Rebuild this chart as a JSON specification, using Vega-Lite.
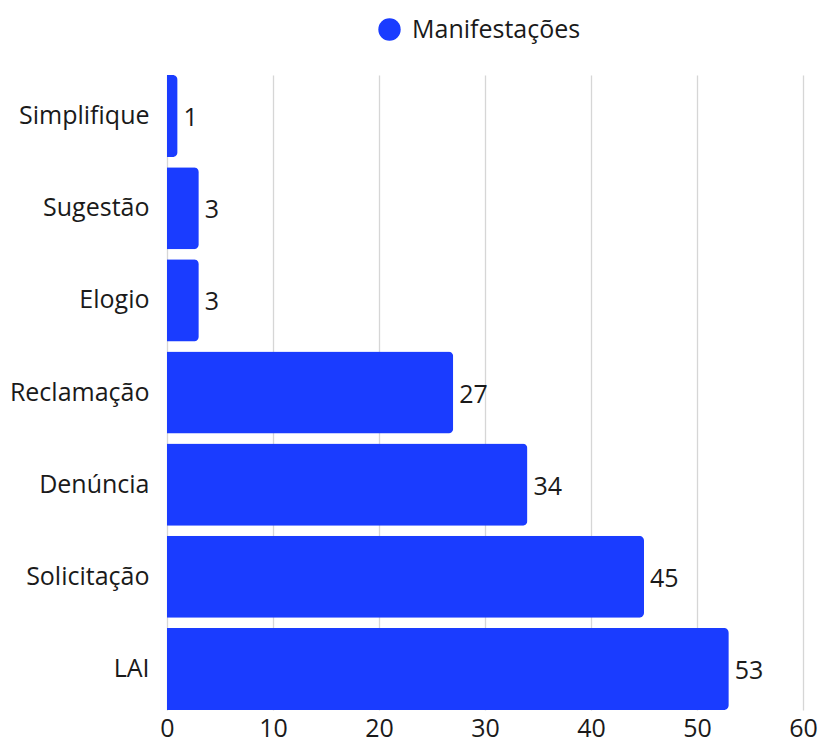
{
  "$schema": "https://vega.github.io/schema/vega-lite/v6.json",
  "width": 636,
  "height": 635,
  "padding": {"left": 9, "top": 17, "right": 5, "bottom": 5},
  "background": "white",
  "config": {
    "font": "Open Sans",
    "view": {"stroke": null}
  },
  "data": {
    "values": [
      {"tipo": "Simplifique", "serie": "Manifestações", "valor": 1},
      {"tipo": "Sugestão", "serie": "Manifestações", "valor": 3},
      {"tipo": "Elogio", "serie": "Manifestações", "valor": 3},
      {"tipo": "Reclamação", "serie": "Manifestações", "valor": 27},
      {"tipo": "Denúncia", "serie": "Manifestações", "valor": 34},
      {"tipo": "Solicitação", "serie": "Manifestações", "valor": 45},
      {"tipo": "LAI", "serie": "Manifestações", "valor": 53}
    ]
  },
  "encoding": {
    "y": {
      "field": "tipo",
      "type": "nominal",
      "sort": null,
      "scale": {"paddingInner": 0.109, "paddingOuter": 0},
      "axis": {
        "title": null,
        "ticks": false,
        "domain": false,
        "labelFontSize": 25,
        "labelColor": "#1a1a1a",
        "labelPadding": 18
      }
    },
    "x": {
      "field": "valor",
      "type": "quantitative",
      "scale": {"domain": [0, 60], "nice": false},
      "axis": {
        "title": null,
        "values": [0, 10, 20, 30, 40, 50, 60],
        "ticks": false,
        "domain": false,
        "grid": true,
        "gridColor": "#d6d6d6",
        "gridWidth": 1.3,
        "labelFontSize": 25,
        "labelColor": "#1a1a1a",
        "labelPadding": 6,
        "labelFlush": false
      }
    }
  },
  "layer": [
    {
      "mark": {"type": "bar", "cornerRadiusEnd": 5},
      "encoding": {
        "color": {
          "field": "serie",
          "type": "nominal",
          "scale": {"range": ["#1a3cff"]},
          "legend": {
            "title": null,
            "orient": "none",
            "legendX": 210,
            "legendY": -58,
            "symbolType": "circle",
            "symbolSize": 500,
            "labelFontSize": 25,
            "labelLimit": 400,
            "labelColor": "#1a1a1a",
            "labelOffset": 10
          }
        }
      }
    },
    {
      "mark": {"type": "text", "align": "left", "baseline": "middle", "dx": 6, "dy": 2, "fontSize": 25, "color": "#1a1a1a"},
      "encoding": {"text": {"field": "valor", "type": "quantitative"}}
    }
  ]
}
